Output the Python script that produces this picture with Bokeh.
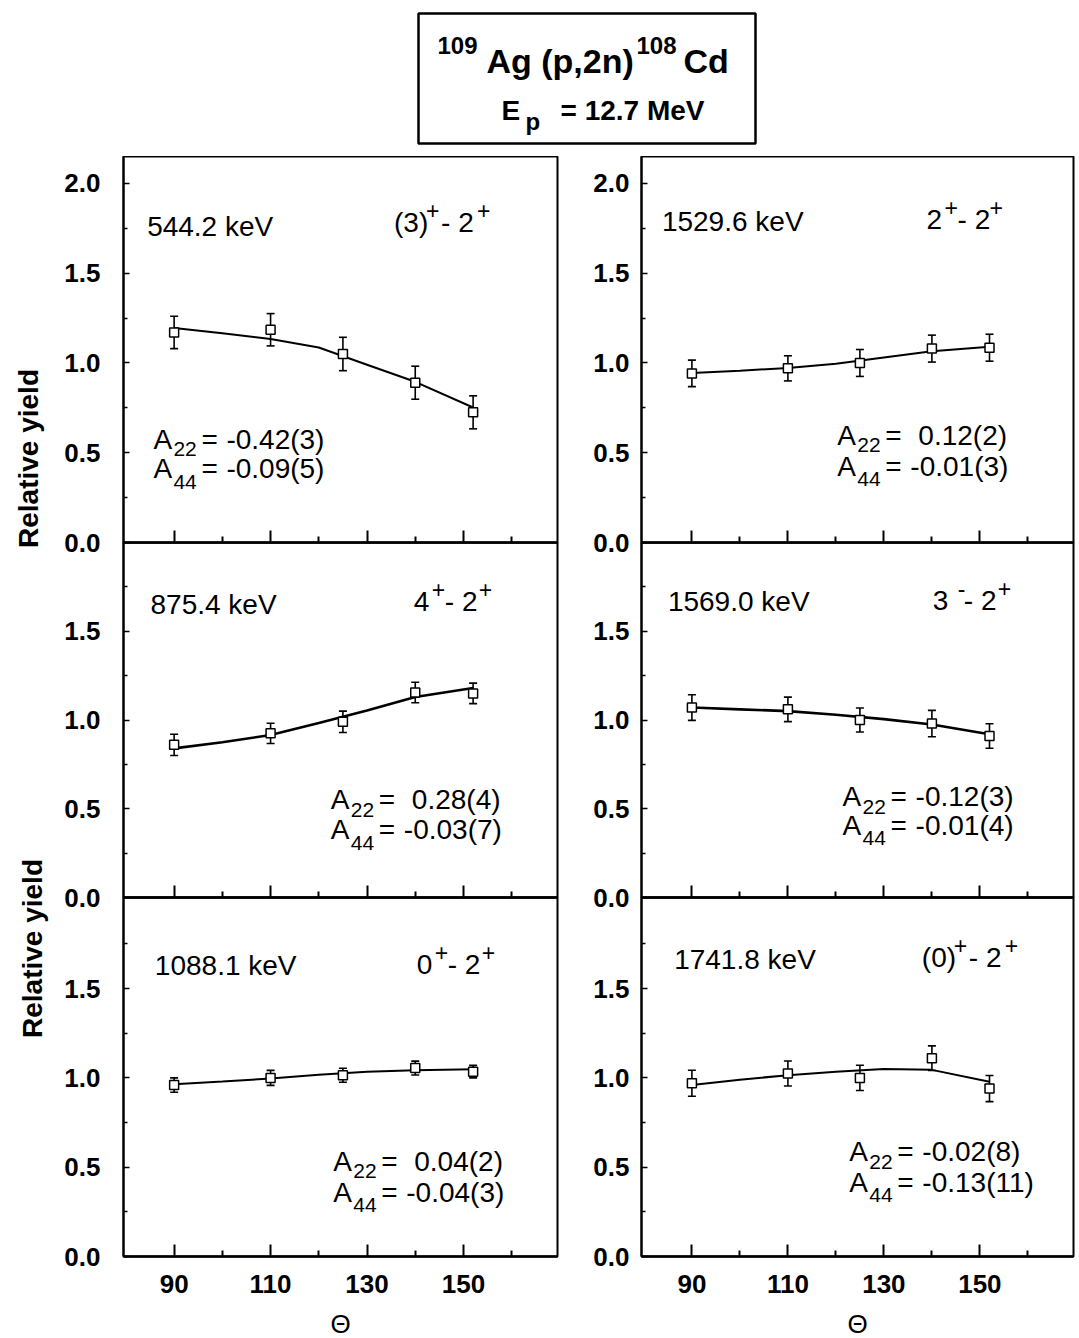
import math
from bokeh.plotting import figure
from bokeh.models import (Range1d, FixedTicker, PrintfTickFormatter, Label, Whisker,
                          TeeHead, ColumnDataSource, BoxAnnotation)
from bokeh.layouts import column, row
from bokeh.embed import file_html
from bokeh.resources import INLINE

FONT = "Liberation Sans"

# ---------------- data ----------------
angles = [90, 110, 125, 140, 152]
fit_angles = [90, 100, 110, 120, 130, 140, 152]

x_major = [90, 110, 130, 150]
x_minor = [100, 120, 140, 160]
y_major_top = [0.0, 0.5, 1.0, 1.5, 2.0]
y_major = [0.0, 0.5, 1.0, 1.5]
y_minor = [0.25, 0.75, 1.25, 1.75]

# 544.2 keV (3)+ - 2+
y_544 = [1.17, 1.185, 1.05, 0.89, 0.725]
e_544 = [0.09, 0.09, 0.093, 0.092, 0.092]
fit_544 = [1.195, 1.165, 1.133, 1.086, 0.99, 0.895, 0.752]

# 875.4 keV 4+ - 2+
y_875 = [0.86, 0.925, 0.99, 1.155, 1.15]
e_875 = [0.06, 0.057, 0.06, 0.058, 0.058]
fit_875 = [0.84, 0.875, 0.915, 0.983, 1.053, 1.13, 1.18]

# 1088.1 keV 0+ - 2+
y_1088 = [0.96, 1.0, 1.015, 1.055, 1.035]
e_1088 = [0.04, 0.042, 0.039, 0.039, 0.035]
fit_1088 = [0.965, 0.98, 0.996, 1.018, 1.035, 1.043, 1.048]

# 1529.6 keV 2+ - 2+
y_1529 = [0.942, 0.97, 1.0, 1.08, 1.085]
e_1529 = [0.074, 0.07, 0.075, 0.075, 0.075]
fit_1529 = [0.944, 0.957, 0.972, 0.995, 1.03, 1.065, 1.09]

# 1569.0 keV 3- - 2+
y_1569 = [1.07, 1.06, 1.0, 0.98, 0.91]
e_1569 = [0.072, 0.069, 0.068, 0.074, 0.069]
fit_1569 = [1.07, 1.06, 1.05, 1.03, 1.005, 0.975, 0.92]

# 1741.8 keV (0)+ - 2+
y_1741 = [0.97, 1.025, 1.0, 1.11, 0.94]
e_1741 = [0.073, 0.07, 0.071, 0.069, 0.073]
fit_1741 = [0.96, 0.99, 1.015, 1.035, 1.05, 1.045, 0.978]

energies = ["544.2 keV", "875.4 keV", "1088.1 keV", "1529.6 keV", "1569.0 keV", "1741.8 keV"]
a22_vals = ["-0.42(3)", "0.28(4)", "0.04(2)", "0.12(2)", "-0.12(3)", "-0.02(8)"]
a44_vals = ["-0.09(5)", "-0.03(7)", "-0.04(3)", "-0.01(3)", "-0.01(4)", "-0.13(11)"]

# spin labels: (text, kind, px offset)
spins = [
    [("(3)", "n", 0), ("+", "sup", 32), ("- 2", "n", 47), ("+", "sup", 83)],
    [("4", "n", 0), ("+", "sup", 18), ("- 2", "n", 31), ("+", "sup", 65)],
    [("0", "n", 0), ("+", "sup", 18), ("- 2", "n", 31), ("+", "sup", 65)],
    [("2", "n", 0), ("+", "sup", 18), ("- 2", "n", 31), ("+", "sup", 63)],
    [("3", "n", 0), ("-", "sup", 25), ("- 2", "n", 31), ("+", "sup", 65)],
    [("(0)", "n", 0), ("+", "sup", 32), ("- 2", "n", 47), ("+", "sup", 83)],
]

series_y = [y_544, y_875, y_1088, y_1529, y_1569, y_1741]
series_e = [e_544, e_875, e_1088, e_1529, e_1569, e_1741]
series_fit = [fit_544, fit_875, fit_1088, fit_1529, fit_1569, fit_1741]

# label placement (data coords) per panel:
# energy x, energy y, spin x, spin y, A x, A22 y, A44 y
placement = [
    (84.4, 1.76, 135.6, 1.78, 85.7, 0.575, 0.41),
    (85.1, 1.653, 139.7, 1.67, 122.5, 0.551, 0.381),
    (86.0, 1.628, 140.3, 1.634, 123.0, 0.533, 0.36),
    (83.75, 1.79, 138.9, 1.80, 120.3, 0.598, 0.425),
    (85.0, 1.67, 140.2, 1.676, 121.4, 0.569, 0.407),
    (86.3, 1.663, 137.9, 1.674, 122.8, 0.587, 0.415),
]
curve_w = [2, 2.6, 2, 2, 2.6, 2]

YLAB_W = 50


def add_label(p, x, y, text, size, dx=0, dy=0, bold=False, angle=0.0,
              align="left", baseline="alphabetic"):
    p.add_layout(Label(x=x, y=y, x_offset=dx, y_offset=dy, text=text,
                       text_font=FONT, text_font_size=f"{size}px",
                       text_font_style="bold" if bold else "normal",
                       text_align=align, text_baseline=baseline, angle=angle,
                       text_color="black"))


def make_panel(idx):
    col = 0 if idx < 3 else 1
    r = idx % 3
    left = col == 0
    ml = 123 - YLAB_W if left else 74
    mr = 10 if left else 6
    fw = 434 if left else 432
    fh = [386, 355, 359][r]
    ytop = [2.15, 2.0, 2.01][r]
    t = [0, 0, 40][r]
    b = [20, 20, 82][r]
    margin = [(0, 0, 0, 0), (-20, 0, 0, 0), (-60, 0, 0, 0)][r]
    p = figure(frame_width=fw, frame_height=fh,
               x_range=Range1d(79.5, 169.5), y_range=Range1d(0, ytop),
               output_backend="svg", toolbar_location=None,
               min_border_left=ml, min_border_right=mr,
               min_border_top=t, min_border_bottom=b, margin=margin,
               background_fill_color=None, border_fill_color=None)
    p.xgrid.visible = False
    p.ygrid.visible = False
    p.outline_line_color = "black"
    p.outline_line_width = 2

    xa = p.xaxis[0]
    xa.ticker = FixedTicker(ticks=x_major, minor_ticks=x_minor)
    xa.major_tick_in = 12
    xa.major_tick_out = 0
    xa.minor_tick_in = 6
    xa.minor_tick_out = 0
    xa.major_tick_line_width = 2
    xa.minor_tick_line_width = 2
    xa.axis_line_width = 2.5
    if r == 2:
        xa.major_label_text_font = FONT
        xa.major_label_text_font_style = "bold"
        xa.major_label_text_font_size = "26px"
        xa.major_label_text_color = "black"
        xa.major_label_standoff = 18
        xa.axis_label = "Θ"
        xa.axis_label_text_font = FONT
        xa.axis_label_text_font_style = "normal"
        xa.axis_label_text_font_size = "26px"
        xa.axis_label_text_color = "black"
        xa.axis_label_standoff = 13
    else:
        xa.major_label_overrides = {v: "" for v in x_major}
        xa.major_label_text_font_size = "0px"
        xa.major_label_standoff = 0

    ya = p.yaxis[0]
    ya.ticker = FixedTicker(ticks=y_major_top if r == 0 else y_major, minor_ticks=y_minor)
    ya.formatter = PrintfTickFormatter(format="%.1f")
    ya.major_tick_in = 6
    ya.major_tick_out = 0
    ya.minor_tick_in = 4
    ya.minor_tick_out = 0
    ya.major_tick_line_width = 1.5
    ya.minor_tick_line_width = 1.5
    ya.axis_line_width = 2
    ya.major_label_text_font = FONT
    ya.major_label_text_font_style = "bold"
    ya.major_label_text_font_size = "26px"
    ya.major_label_text_color = "black"
    ya.major_label_standoff = 23 if left else 12

    yv = series_y[idx]
    ev = series_e[idx]
    src = ColumnDataSource(dict(x=angles, y=yv,
                                upper=[a + b_ for a, b_ in zip(yv, ev)],
                                lower=[a - b_ for a, b_ in zip(yv, ev)]))
    p.line(fit_angles, series_fit[idx], line_color="black", line_width=curve_w[idx])
    p.add_layout(Whisker(source=src, base="x", upper="upper", lower="lower",
                         line_color="black", line_width=1.6,
                         upper_head=TeeHead(size=8, line_width=1.6, line_color="black"),
                         lower_head=TeeHead(size=8, line_width=1.6, line_color="black")))
    p.scatter("x", "y", source=src, marker="square", size=9, fill_color="white",
              line_color="black", line_width=1.5)

    ex, ey, sx, sy, ax, a22y, a44y = placement[idx]
    add_label(p, ex, ey, energies[idx], 28)
    for txt, kind, dx in spins[idx]:
        if kind == "n":
            add_label(p, sx, sy, txt, 28, dx=dx)
        else:
            add_label(p, sx, sy, txt, 23, dx=dx, dy=12)
    for yb, sub, val, sdy in ((a22y, "22", a22_vals[idx], -10), (a44y, "44", a44_vals[idx], -13)):
        add_label(p, ax, yb, "A", 28)
        add_label(p, ax, yb, sub, 21, dx=20, dy=sdy)
        add_label(p, ax, yb, "=", 28, dx=48)
        add_label(p, ax, yb, val, 28, dx=73 if val.startswith("-") else 81)
    return p


# ---------------- title ----------------
tp = figure(width=1079, height=156, x_range=Range1d(0, 1079), y_range=Range1d(156, 0),
            output_backend="svg", toolbar_location=None, min_border=0,
            x_axis_location=None, y_axis_location=None)
tp.xgrid.visible = False
tp.ygrid.visible = False
tp.outline_line_color = None
tp.add_layout(BoxAnnotation(left=418, right=755, top=13, bottom=143, fill_color=None,
                            fill_alpha=0, line_color="black", line_alpha=1.0,
                            line_width=2.5))
add_label(tp, 437, 45, "109", 24, bold=True)
add_label(tp, 486, 60, "Ag (p,2n)", 34, bold=True)
add_label(tp, 636, 45, "108", 24, bold=True)
add_label(tp, 683, 60, "Cd", 34, bold=True)
add_label(tp, 501, 110, "E", 28, bold=True)
add_label(tp, 525, 121, "p", 24, bold=True)
add_label(tp, 560, 110, "= 12.7 MeV", 28, bold=True)

# ---------------- shared y-axis titles (left margin strip) ----------------
yl = figure(width=YLAB_W, height=1338 - 156, x_range=Range1d(0, YLAB_W),
            y_range=Range1d(1338, 156), output_backend="svg", toolbar_location=None,
            min_border=0, x_axis_location=None, y_axis_location=None,
            background_fill_color=None, border_fill_color=None)
yl.xgrid.visible = False
yl.ygrid.visible = False
yl.outline_line_color = None
add_label(yl, 28, 458, "Relative yield", 28, bold=True, angle=math.pi / 2,
          align="center", baseline="middle")
add_label(yl, 32, 948, "Relative yield", 28, bold=True, angle=math.pi / 2,
          align="center", baseline="middle")

panels = [make_panel(i) for i in range(6)]
layout = column(tp, row(yl,
                        column(panels[0], panels[1], panels[2]),
                        column(panels[3], panels[4], panels[5])))

open("out.html", "w").write(file_html(layout, INLINE))
